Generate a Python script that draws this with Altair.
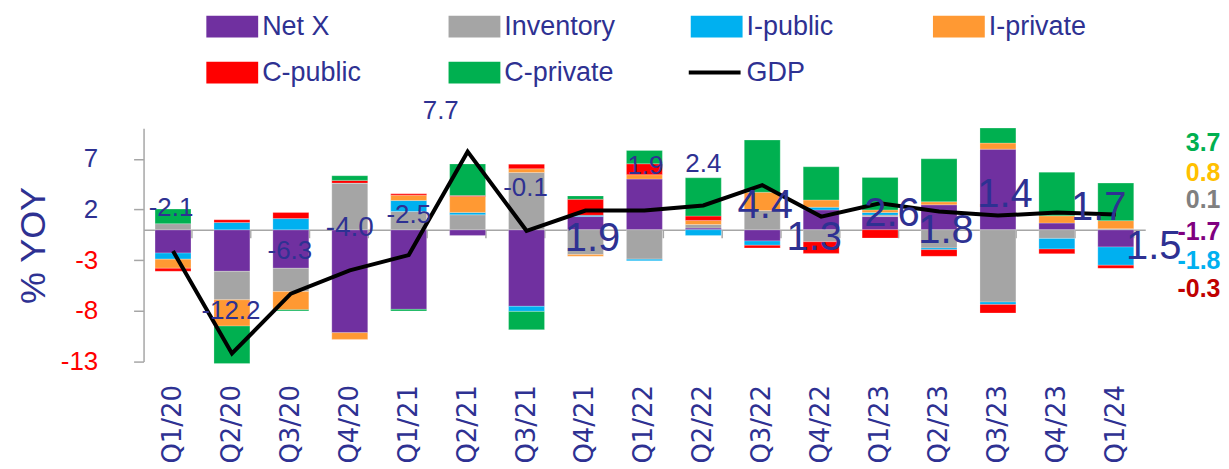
import altair as alt
import pandas as pd

# ---------------- data ----------------
quarters = ["Q1/20", "Q2/20", "Q3/20", "Q4/20", "Q1/21", "Q2/21", "Q3/21", "Q4/21",
            "Q1/22", "Q2/22", "Q3/22", "Q4/22", "Q1/23", "Q2/23", "Q3/23", "Q4/23", "Q1/24"]

net_x     = [-2.3, -4.1, -3.8, -10.15, -7.85, -0.56, -7.55, 1.3, 5.0, 0.17, -1.1, 1.96, 1.3, 2.46, 7.95, 0.66, -1.7]
inventory = [0.6, -2.8, -2.3, 4.6, 1.8, 1.48, 5.65, -2.45, -2.9, 0.35, 1.9, -1.18, 0.15, -1.8, -7.13, -0.85, 0.1]
i_public  = [-0.6, 0.72, 1.1, 0.0, 1.08, 0.23, -0.5, 0.13, -0.16, -0.56, -0.43, 0.26, 0.26, -0.16, -0.23, -1.05, -1.8]
i_private = [-0.9, -2.6, -1.8, -0.66, 0.53, 1.58, 0.36, -0.16, 0.43, 0.4, 1.8, 0.72, 0.25, 0.3, 0.6, 0.72, 0.8]
c_public  = [-0.3, 0.27, 0.6, 0.27, 0.13, 0.08, 0.46, 1.58, 1.08, 0.43, -0.26, -1.15, -0.82, -0.66, -0.85, -0.46, -0.3]
c_private = [1.45, -3.7, -0.1, 0.46, -0.15, 3.12, -1.8, 0.33, 1.31, 3.77, 5.15, 3.27, 3.2, 4.24, 1.48, 4.3, 3.7]
gdp       = [-2.1, -12.2, -6.3, -4.0, -2.5, 7.7, -0.1, 1.9, 1.9, 2.4, 4.4, 1.3, 2.6, 1.8, 1.4, 1.7, 1.5]

series_names  = ["Net X", "Inventory", "I-public", "I-private", "C-public", "C-private"]
series_colors = ["#7030A0", "#A5A5A5", "#00B0F0", "#FF9933", "#FF0000", "#00B050"]

# latest-quarter contributions shown at the right
latest_vals   = [3.7, 0.8, 0.1, -1.7, -1.8, -0.3]
latest_colors = ["#00B050", "#FFC000", "#808080", "#800080", "#00B0F0", "#C00000"]

# ---------------- label placement (layout only) ----------------
label_y  = [2.18, -8.03, -2.14, 0.22, 1.49, 11.7, 4.14, -0.96, 6.3, 6.5, 2.37, -0.86, 1.59, -0.08, 3.45, 2.18, -1.75]
label_dx = [-2, -1, -1, 0, 0, -27, -1, 7, 1, 0, 3, -7, 12, 7, 7, 42, 38]
label_fs = [26, 26, 26, 28, 26, 26, 26, 40, 26, 26, 40, 40, 40, 40, 40, 40, 40]
latest_y = [8.54, 5.6, 2.96, -0.26, -3.1, -5.85]

NAVY = "#2E3192"
FONT = "Liberation Sans"

series_vals = [net_x, inventory, i_public, i_private, c_public, c_private]
rows = []
for qi, q in enumerate(quarters):
    for si, name in enumerate(series_names):
        rows.append({"quarter": q, "series": name, "ord": si, "value": series_vals[si][qi]})
bars_df = pd.DataFrame(rows)

line_df = pd.DataFrame({"quarter": quarters, "gdp": gdp, "name": ["GDP"] * len(quarters),
                        "txt": [f"{v:.1f}" for v in gdp],
                        "ly": label_y, "dx": label_dx, "fs": label_fs})

latest_df = pd.DataFrame({"quarter": [quarters[-1]] * len(latest_vals), "v": latest_vals,
                          "txt": [f"{v:.1f}" for v in latest_vals],
                          "c": latest_colors, "ly": latest_y})

W, H = 1005, 234
ymin, ymax = -13, 10
zero_off = -(H - H * ymax / (ymax - ymin))

yscale = alt.Scale(domain=[ymin, ymax], nice=False, zero=False)
yaxis = alt.Axis(values=[-13, -8, -3, 2, 7], title="% YOY", grid=False,
                 labelExpr="replace(datum.label, '\u2212', '-')",
                 domainColor="#A6A6A6", domainWidth=1.5, tickColor="#A6A6A6", tickWidth=1.5,
                 tickSize=10, labelFontSize=26, labelFont=FONT, labelPadding=36,
                 labelColor={"expr": "datum.value < 0 ? '#FF0000' : '%s'" % NAVY},
                 titleFontSize=36, titleFont=FONT, titleFontWeight="normal", titleColor=NAVY,
                 titleAngle=-90, titleX=-110, titleY=117, titleAlign="center", titleBaseline="middle")

xscale = alt.Scale(paddingInner=0.39, paddingOuter=0.195)
xaxis_labels = alt.Axis(title=None, domain=False, ticks=False, grid=False, labelAngle=-90,
                        labelAlign="right", labelBaseline="middle", labelPadding=23,
                        labelFontSize=26, labelFont="DejaVu Sans", labelColor=NAVY)
xaxis_zero = alt.Axis(title=None, labels=False, domain=True, ticks=True, grid=False,
                      domainColor="#A6A6A6", domainWidth=1.5, tickColor="#A6A6A6", tickWidth=1.5,
                      tickSize=8, tickBand="extent", orient="bottom", offset=zero_off)

bars = alt.Chart(bars_df).mark_bar(stroke="#ffffff", strokeWidth=0.4, strokeOpacity=0.6).encode(
    x=alt.X("quarter:N", sort=quarters, scale=xscale, axis=xaxis_labels),
    y=alt.Y("value:Q", stack="zero", scale=yscale, axis=yaxis),
    color=alt.Color("series:N", scale=alt.Scale(domain=series_names, range=series_colors),
                    legend=alt.Legend(title=None, orient="none", legendX=63, legendY=-128,
                                      direction="horizontal",
                                      columns=4, gridAlign="all", columnPadding=75, rowPadding=7,
                                      symbolType="M-1,-0.42H1V0.42H-1Z", symbolSize=2704,
                                      symbolStrokeWidth=0, symbolOpacity=1, labelOffset=4,
                                      labelFontSize=27, labelFont=FONT, labelColor=NAVY,
                                      padding=0, labelLimit=300)),
    order=alt.Order("ord:Q", sort="ascending"),
)

line = alt.Chart(line_df).mark_line(strokeWidth=4).encode(
    x=alt.X("quarter:N", sort=quarters, scale=xscale, axis=xaxis_zero),
    y=alt.Y("gdp:Q", scale=yscale, axis=yaxis),
    stroke=alt.Stroke("name:N", scale=alt.Scale(domain=["GDP"], range=["#000000"]),
                      legend=alt.Legend(title=None, orient="none", legendX=545, legendY=-84,
                                        symbolType="stroke", symbolSize=2704, symbolStrokeWidth=4,
                                        labelOffset=4, labelFontSize=27, labelFont=FONT,
                                        labelColor=NAVY, padding=0)),
)

labels = alt.Chart(line_df).mark_text(align="center", baseline="middle", color=NAVY, font=FONT,
                                      dx=alt.expr("datum.dx")).encode(
    x=alt.X("quarter:N", sort=quarters, scale=xscale, axis=None),
    y=alt.Y("ly:Q", scale=yscale, axis=yaxis),
    text=alt.Text("txt:N"),
    size=alt.Size("fs:Q", scale=None, legend=None),
)

latest = alt.Chart(latest_df).mark_text(align="right", baseline="middle", font=FONT,
                                        fontWeight="bold", fontSize=25, dx=105).encode(
    x=alt.X("quarter:N", sort=quarters, scale=xscale, axis=None),
    y=alt.Y("ly:Q", scale=yscale, axis=yaxis),
    text=alt.Text("txt:N"),
    color=alt.Color("c:N", scale=None, legend=None),
)

chart = alt.layer(bars, line, labels, latest).resolve_axis(x="independent").properties(
    width=W, height=H,
    autosize=alt.AutoSizeParams(type="none"),
    padding={"left": 136, "top": 120, "right": 76, "bottom": 102},
).configure_view(stroke=None)

chart.save("out.html", embed_options={"renderer": "svg", "actions": False})
